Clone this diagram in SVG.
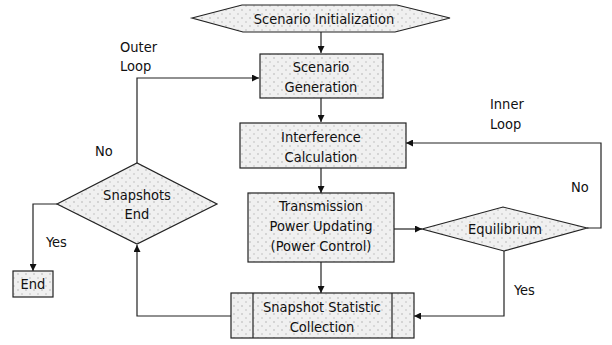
<svg xmlns="http://www.w3.org/2000/svg" width="612" height="345" viewBox="0 0 612 345">
<defs>
<pattern id="dots" width="8" height="8" patternUnits="userSpaceOnUse">
<rect width="8" height="8" fill="#f0f0f0"/>
<circle cx="2" cy="2" r="0.8" fill="#b0b0b0"/>
<circle cx="6" cy="6" r="0.8" fill="#bcbcbc"/>
</pattern>
<marker id="arr" viewBox="0 0 10 10" refX="10" refY="5" markerWidth="7" markerHeight="7" orient="auto" markerUnits="userSpaceOnUse">
<path d="M0,0 L10,5 L0,10 z" fill="#111"/>
</marker>
</defs>
<style>
.shape{fill:url(#dots);stroke:#222;stroke-width:1.2}
.line{fill:none;stroke:#222;stroke-width:1.2}
text{font-family:"DejaVu Sans Condensed","Liberation Sans",sans-serif;font-size:14.5px;fill:#111;text-anchor:middle}
.lbl{text-anchor:start}
</style>
<rect width="612" height="345" fill="#fff"/>
<g id="connectors">
<path class="line" d="M321,32 V53" marker-end="url(#arr)"/>
<path class="line" d="M321,98 V122" marker-end="url(#arr)"/>
<path class="line" d="M321,168 V193" marker-end="url(#arr)"/>
<path class="line" d="M321,262 V293" marker-end="url(#arr)"/>
<path class="line" d="M394,229 H422" marker-end="url(#arr)"/>
<path class="line" d="M587,228 H601 V143 H406" marker-end="url(#arr)"/>
<path class="line" d="M504,251 V316 H414" marker-end="url(#arr)"/>
<path class="line" d="M231,316 H137 V245" marker-end="url(#arr)"/>
<path class="line" d="M137,163 V78 H259" marker-end="url(#arr)"/>
<path class="line" d="M57,204 H33 V271" marker-end="url(#arr)"/>
<text class="lbl" x="120" y="52">Outer</text>
<text class="lbl" x="120" y="71">Loop</text>
<text class="lbl" x="95" y="156">No</text>
<text class="lbl" x="46" y="247">Yes</text>
<text class="lbl" x="490" y="109">Inner</text>
<text class="lbl" x="490" y="129">Loop</text>
<text class="lbl" x="571" y="192">No</text>
<text class="lbl" x="514" y="295">Yes</text>
</g>
<g id="scenario-init">
<polygon class="shape" points="192,18 242,5 397,5 450,18 395,32 243,32"/>
<text x="324" y="24">Scenario Initialization</text>
</g>
<g id="scenario-gen">
<rect class="shape" x="260" y="54" width="123" height="44"/>
<text x="321" y="72">Scenario</text>
<text x="321" y="92">Generation</text>
</g>
<g id="interference">
<rect class="shape" x="240" y="123" width="166" height="45"/>
<text x="321" y="142">Interference</text>
<text x="321" y="162">Calculation</text>
</g>
<g id="transmission">
<rect class="shape" x="248" y="193" width="146" height="69"/>
<text x="321" y="211">Transmission</text>
<text x="321" y="231">Power Updating</text>
<text x="321" y="251">(Power Control)</text>
</g>
<g id="equilibrium">
<polygon class="shape" points="422,229 503,207 587,228 504,251"/>
<text x="505" y="234">Equilibrium</text>
</g>
<g id="snapshot-stat">
<rect class="shape" x="231" y="293" width="183" height="45"/>
<line class="line" x1="253" y1="293" x2="253" y2="338"/>
<line class="line" x1="392" y1="293" x2="392" y2="338"/>
<text x="322" y="312">Snapshot Statistic</text>
<text x="322" y="332">Collection</text>
</g>
<g id="snapshots-end">
<polygon class="shape" points="57,204 137,163 217,204 137,244"/>
<text x="137" y="200">Snapshots</text>
<text x="137" y="219">End</text>
</g>
<g id="end">
<rect class="shape" x="13" y="271" width="40" height="26"/>
<text x="33" y="289">End</text>
</g>
</svg>
